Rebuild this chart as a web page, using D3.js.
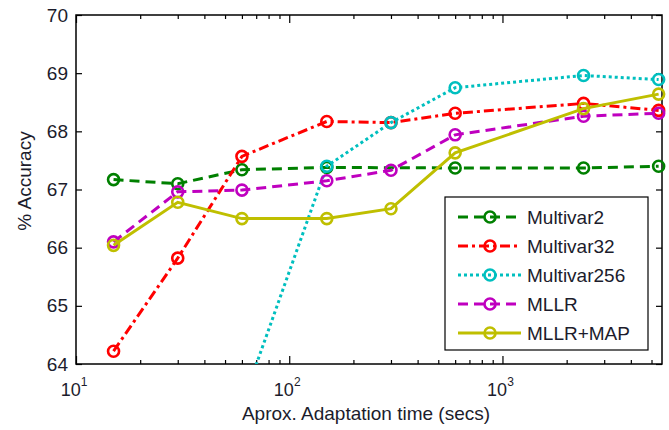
<!DOCTYPE html>
<html>
<head>
<meta charset="utf-8">
<script src="https://cdn.jsdelivr.net/npm/d3@7"></script>
<style>
  html, body { margin: 0; padding: 0; background: #fff; }
  text { font-family: "Liberation Sans", Arial, sans-serif; fill: #1c1c2c; }
</style>
</head>
<body>
<svg id="chart" width="669" height="430"></svg>
<script>
// ---- data ----
const seriesNames = ["Multivar2", "Multivar32", "Multivar256", "MLLR", "MLLR+MAP"];
const multivar2X = [15, 30, 60, 150, 600, 2400, 5400];
const multivar2Y = [67.17, 67.10, 67.34, 67.38, 67.37, 67.37, 67.40];
const multivar32X = [15, 30, 60, 150, 300, 600, 2400, 5400];
const multivar32Y = [64.22, 65.82, 67.57, 68.17, 68.15, 68.31, 68.48, 68.36];
const multivar256X = [60, 150, 300, 600, 2400, 5400];
const multivar256Y = [63.30, 67.40, 68.15, 68.75, 68.96, 68.89];
const mllrX = [15, 30, 60, 150, 300, 600, 2400, 5400];
const mllrY = [66.10, 66.96, 66.99, 67.15, 67.33, 67.94, 68.26, 68.31];
const mllrMapX = [15, 30, 60, 150, 300, 600, 2400, 5400];
const mllrMapY = [66.04, 66.78, 66.50, 66.50, 66.67, 67.63, 68.39, 68.64];
const yTicks = [64, 65, 66, 67, 68, 69, 70];
const xMajorTicks = [10, 100, 1000];
const xTickExponents = ["1", "2", "3"];
const xLabel = "Aprox. Adaptation time (secs)";
const yLabel = "% Accuracy";

// ---- styles ----
const colors = ["#008000", "#ff0000", "#00bfbf", "#bf00bf", "#bfbf00"];
const dashes = ["10,6", "10,4,3,4", "3,3", "10,6", null];

const svg = d3.select("#chart");
const L = 76, R = 662, T = 15, B = 364;
const x = d3.scaleLog().domain([10, 5600]).range([L, R]);
const y = d3.scaleLinear().domain([64, 70]).range([B, T]);

svg.append("defs").append("clipPath").attr("id", "clip")
  .append("rect").attr("x", 0).attr("y", T).attr("width", 669).attr("height", B - T);

// minor ticks
const minorTicks = [];
[10, 100, 1000].forEach(d => { for (let k = 2; k <= 9; k++) { const v = d * k; if (v <= 5600) minorTicks.push(v); } });

const axisG = svg.append("g");
const xAxisB = d3.axisBottom(x).tickValues(xMajorTicks).tickSizeInner(-8).tickSizeOuter(0).tickFormat("");
const xAxisBm = d3.axisBottom(x).tickValues(minorTicks).tickSizeInner(-4).tickSizeOuter(0).tickFormat("");
const xAxisT = d3.axisTop(x).tickValues(xMajorTicks).tickSizeInner(-8).tickSizeOuter(0).tickFormat("");
const xAxisTm = d3.axisTop(x).tickValues(minorTicks).tickSizeInner(-4).tickSizeOuter(0).tickFormat("");
const yAxisL = d3.axisLeft(y).tickValues(yTicks).tickSizeInner(-6).tickSizeOuter(0).tickPadding(8).tickFormat(d3.format("d"));
const yAxisR = d3.axisRight(y).tickValues(yTicks).tickSizeInner(-6).tickSizeOuter(0).tickFormat("");

axisG.append("g").attr("transform", `translate(0,${B})`).call(xAxisB);
axisG.append("g").attr("transform", `translate(0,${B})`).call(xAxisBm);
axisG.append("g").attr("transform", `translate(0,${T})`).call(xAxisT);
axisG.append("g").attr("transform", `translate(0,${T})`).call(xAxisTm);
const yl = axisG.append("g").attr("transform", `translate(${L},0)`).call(yAxisL);
axisG.append("g").attr("transform", `translate(${R},0)`).call(yAxisR);
axisG.selectAll(".domain").remove();
axisG.selectAll("line").attr("stroke", "#000").attr("stroke-width", 1.2);
yl.selectAll("text").attr("font-size", 19).style("font-family", "Liberation Sans, Arial, sans-serif").attr("fill", "#1c1c2c");

svg.append("rect").attr("x", L).attr("y", T).attr("width", R - L).attr("height", B - T)
  .attr("fill", "none").attr("stroke", "#000").attr("stroke-width", 1.5);

// x tick labels with superscripts
xMajorTicks.forEach((v, i) => {
  const t = svg.append("text").attr("x", x(v) - 2).attr("y", 396).attr("text-anchor", "middle").attr("font-size", 18);
  t.append("tspan").text("10");
  t.append("tspan").attr("dy", -10).attr("font-size", 12).text(xTickExponents[i]);
});

svg.append("text").attr("x", 366).attr("y", 420).attr("text-anchor", "middle").attr("font-size", 19).text(xLabel);
svg.append("text").attr("transform", "translate(31,181) rotate(-90)").attr("text-anchor", "middle").attr("font-size", 19).text(yLabel);

// series
const seriesX = [multivar2X, multivar32X, multivar256X, mllrX, mllrMapX];
const seriesY = [multivar2Y, multivar32Y, multivar256Y, mllrY, mllrMapY];
const line = d3.line().x(d => x(d[0])).y(d => y(d[1]));
const plotG = svg.append("g");
seriesNames.forEach((name, i) => {
  const pts = seriesX[i].map((xv, j) => [xv, seriesY[i][j]]);
  const g = plotG.append("g").attr("clip-path", "url(#clip)");
  g.append("path").datum(pts).attr("d", line).attr("fill", "none")
    .attr("stroke", colors[i]).attr("stroke-width", 3)
    .attr("stroke-dasharray", dashes[i]);
  g.selectAll("circle").data(pts.filter(d => d[1] >= 64)).join("circle")
    .attr("cx", d => x(d[0])).attr("cy", d => y(d[1])).attr("r", 5.5)
    .attr("fill", "none").attr("stroke", colors[i]).attr("stroke-width", 2.6);
});

// legend
const lg = svg.append("g");
lg.append("rect").attr("x", 445).attr("y", 197).attr("width", 203).attr("height", 153)
  .attr("fill", "#fff").attr("stroke", "#000").attr("stroke-width", 1.2);
const legY = [217, 246, 275, 304, 333];
seriesNames.forEach((name, i) => {
  lg.append("line").attr("x1", 458).attr("x2", 521).attr("y1", legY[i]).attr("y2", legY[i])
    .attr("stroke", colors[i]).attr("stroke-width", 3).attr("stroke-dasharray", dashes[i]);
  lg.append("circle").attr("cx", 490).attr("cy", legY[i]).attr("r", 5.5)
    .attr("fill", "none").attr("stroke", colors[i]).attr("stroke-width", 2.6);
  lg.append("text").attr("x", 527).attr("y", legY[i] + 7).attr("font-size", 19).text(name);
});
</script>
</body>
</html>
